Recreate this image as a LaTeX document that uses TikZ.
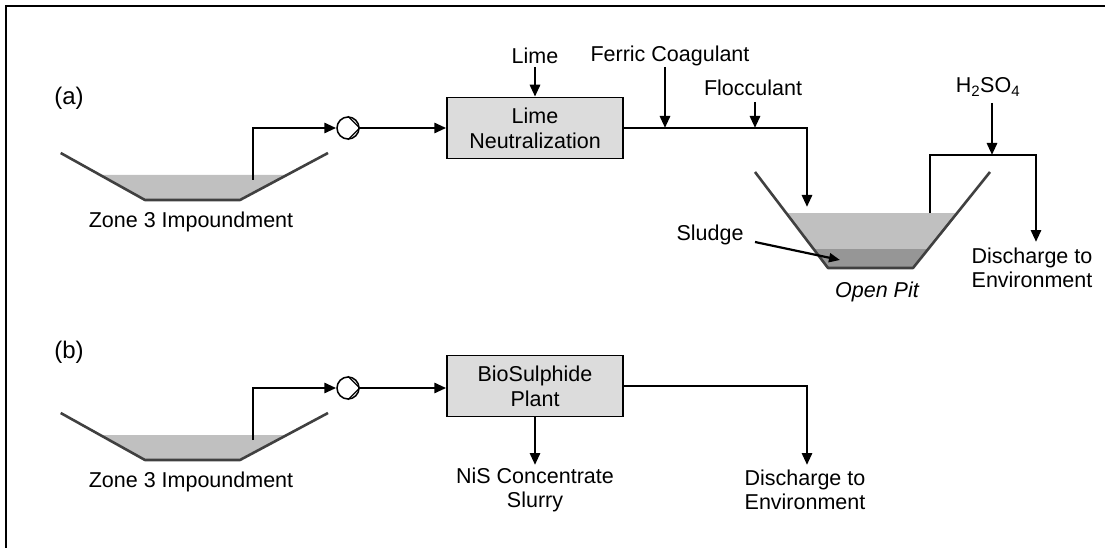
\documentclass[tikz,border=0pt]{standalone}
\usepackage{fontspec}
\setmainfont{Liberation Sans}
\usetikzlibrary{arrows.meta}
\definecolor{boxfill}{HTML}{DCDCDC}
\definecolor{water}{HTML}{C0C0C0}
\definecolor{sludgec}{HTML}{969696}
\definecolor{pondline}{HTML}{404040}
\begin{document}
\begin{tikzpicture}[x=1pt,y=-1pt,
  pipe/.style={line width=2.8pt, line join=miter},
  flow/.style={pipe, -{Triangle[length=12pt,width=10pt]}},
  pond/.style={line width=2.6pt, draw=pondline, line join=round},
  lbl/.style={font=\fontsize{21.5}{24}\selectfont, align=center, inner sep=0pt},
  panel/.style={font=\fontsize{24}{28}\selectfont, inner sep=0pt},
  unit/.style={draw, line width=1.5pt, fill=boxfill, minimum width=176pt, minimum height=61pt,
    font=\fontsize{21.5}{25}\selectfont, align=center, inner sep=0pt},
  pump/.style={circle, draw, line width=1.5pt, minimum size=22pt, inner sep=0pt, fill=white},
  chev/.style={line width=1.2pt}]
\useasboundingbox (0,0) rectangle (1105,548);
\draw[line width=2pt] (6,548) -- (6,6) -- (1105,6);

% ---------------- (a) ----------------
\node[panel] (la) at (69,98) {(a)};
\fill[water] (100,175) -- (286.8,175) -- (240,200) -- (145,200) -- cycle;
\draw[pond] (60.7,153) -- (145,200) -- (240,200) -- (328,153);
\node[lbl] (za) at (191,222) {Zone 3 Impoundment};
\coordinate (sa) at (253,180);
\node[pump] (pa) at (348,128) {};
\draw[chev] (pa.90) -- (pa.east) -- (pa.-90);
\node[unit] (lime) at (535,128) {Lime\\Neutralization};
\draw[flow] (sa) |- (pa.west);
\draw[flow] (pa.east) -- (lime.west);

\node[lbl] (limel) at (535,56) {Lime};
\coordinate (limes) at (535,67);
\draw[flow] (limes) -- (lime.north);

\node[lbl] (ferric) at (670,56) {Ferric Coagulant};
\coordinate (fs) at (665,67);
\coordinate (fe) at (665,128);
\draw[flow] (fs) -- (fe);

\node[lbl] (floc) at (753,88) {Flocculant};
\coordinate (fls) at (755,102);
\coordinate (fle) at (755,128);
\draw[flow] (fls) -- (fle);

\coordinate (pitin) at (807,207);
\draw[flow] (lime.east) -| (pitin);

% open pit
\fill[water] (786.2,213) -- (957.1,213) -- (928.2,249) -- (813.5,249) -- cycle;
\fill[sludgec] (813.5,249) -- (928.2,249) -- (913,268) -- (828,268) -- cycle;
\draw[pond] (755,172) -- (828,268) -- (913,268) -- (990,172);
\node[lbl, font=\fontsize{21.5}{24}\selectfont\itshape] (pit) at (877,292) {Open Pit};

\node[lbl] (sludge) at (710,235) {Sludge};
\coordinate (sls) at (755,242);
\coordinate (sle) at (840,260);
\draw[line width=2.2pt, -{Triangle[length=11pt,width=9pt]}] (sls) -- (sle);

\coordinate (po) at (930,213);
\coordinate (dis) at (1036,242);
\draw[flow] (po) |- (1036,155) -- (dis);
\node[lbl] (acid) at (988,87) {H\textsubscript{2}SO\textsubscript{4}};
\coordinate (as) at (992,103);
\coordinate (ae) at (992,155);
\draw[flow] (as) -- (ae);
\node[lbl] (disa) at (1032,268) {Discharge to\\Environment};

% ---------------- (b) ----------------
\node[panel] (lb) at (69,352) {(b)};
\fill[water] (100,435) -- (286.8,435) -- (240,460) -- (145,460) -- cycle;
\draw[pond] (60.7,413) -- (145,460) -- (240,460) -- (328,413);
\node[lbl] (zb) at (191,482) {Zone 3 Impoundment};
\coordinate (sb) at (253,440);
\node[pump] (pb) at (348,388) {};
\draw[chev] (pb.90) -- (pb.east) -- (pb.-90);
\node[unit] (bio) at (535,386) {BioSulphide\\Plant};
\draw[flow] (sb) |- (pb.west);
\draw[flow] (pb.east) -- (pb.east -| bio.west);

\coordinate (nis) at (535,465);
\draw[flow] (bio.south) -- (nis);
\node[lbl] (nisl) at (535,490) {NiS Concentrate\\Slurry};

\coordinate (disb) at (807,465);
\draw[flow] (bio.east) -| (disb);
\node[lbl] (disbl) at (805,490) {Discharge to\\Environment};
\end{tikzpicture}
\end{document}
